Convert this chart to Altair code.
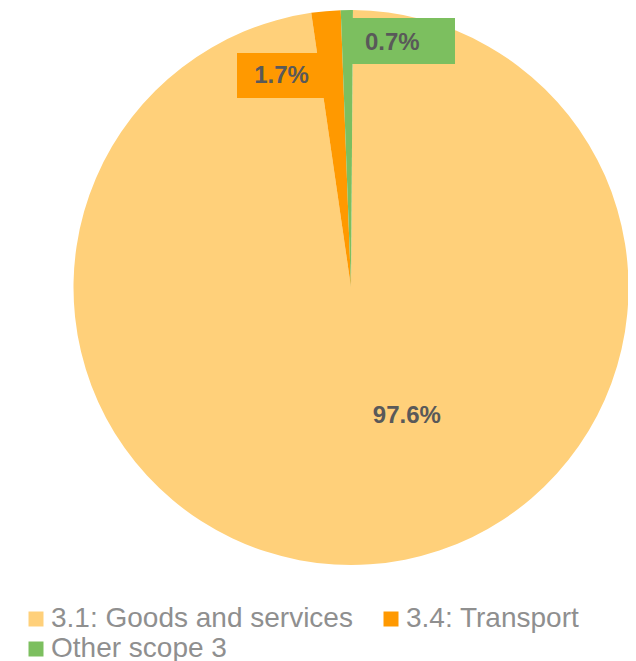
import altair as alt
import pandas as pd
import math

# ---- data ----
categories = ["3.1: Goods and services", "3.4: Transport", "Other scope 3"]
shares = [97.6, 1.7, 0.7]
labels = ["97.6%", "1.7%", "0.7%"]
order_idx = [0, 1, 2]
colors = ["#FFD07A", "#FF9900", "#7CBF5F"]

df = pd.DataFrame({"cat": categories, "value": shares, "label": labels, "idx": order_idx})

FONT = "Liberation Sans"
TXT = "#595959"
start = math.radians(0.4)

theta_scale = alt.Scale(domain=[0, 100], range=[start, start + 2 * math.pi])
color_scale = alt.Scale(domain=categories, range=colors)

CX, CY, R = 343, 279.5, 277.5

base = alt.Chart(df)

pie = base.mark_arc(radius=R, stroke=None).encode(
    theta=alt.Theta("value:Q", stack=True, scale=theta_scale),
    order=alt.Order("idx:O"),
    color=alt.Color(
        "cat:N",
        scale=color_scale,
        legend=alt.Legend(
            title=None,
            orient="none",
            legendX=14,
            legendY=597,
            padding=0,
            direction="horizontal",
            columns=2,
            symbolType="square",
            symbolSize=225,
            symbolStrokeWidth=0,
            labelFont=FONT,
            labelFontSize=28,
            labelColor="#8F8F8F",
            labelLimit=500,
            labelOffset=1,
            columnPadding=24,
            rowPadding=2,
        ),
    ),
    x=alt.value(CX),
    y=alt.value(CY),
)

box_df = pd.DataFrame({"k": [0]})
box_orange = alt.Chart(box_df).mark_rect(color=colors[1]).encode(
    x=alt.value(229), x2=alt.value(319), y=alt.value(45), y2=alt.value(90)
)
box_green = alt.Chart(box_df).mark_rect(color=colors[2]).encode(
    x=alt.value(335), x2=alt.value(447), y=alt.value(10), y2=alt.value(56)
)

mid = base.transform_window(
    cum="sum(value)", sort=[alt.SortField("idx")], frame=[None, 0]
).transform_calculate(mid="datum.cum - datum.value / 2")


def label_layer(cat, radius, dx, dy):
    return mid.transform_filter(alt.datum.cat == cat).mark_text(
        radius=radius, dx=dx, dy=dy, font=FONT, fontSize=24, fontWeight="bold",
        color=TXT, align="center", baseline="middle",
    ).encode(
        theta=alt.Theta("mid:Q", stack=None, scale=theta_scale),
        text="label:N",
        x=alt.value(CX),
        y=alt.value(CY),
    )


lab_goods = label_layer(categories[0], 130, 47, -1)
lab_trans = label_layer(categories[1], 215, -50, 3)
lab_other = label_layer(categories[2], 245, 45, 0.5)

chart = alt.layer(pie, box_orange, box_green, lab_goods, lab_trans, lab_other).properties(
    width=620, height=653, autosize=alt.AutoSizeParams(type="none"), padding=0,
    background="white",
).configure_view(stroke=None)

chart.save("out.html", embed_options={"renderer": "svg", "actions": False})
